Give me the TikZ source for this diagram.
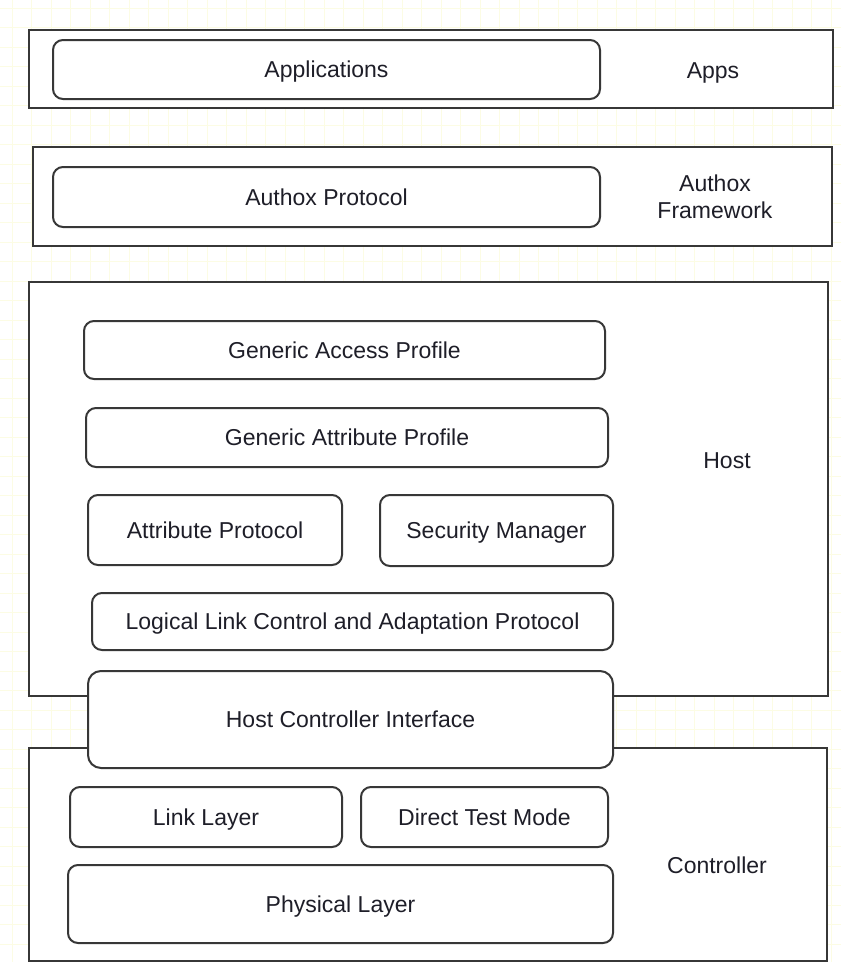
\documentclass[tikz,border=0pt]{standalone}
\usepackage{fontspec}
\setmainfont{Liberation Sans}
\definecolor{gridc}{RGB}{252,252,228}
\definecolor{linec}{RGB}{55,55,55}
\definecolor{textc}{RGB}{30,30,40}
\begin{document}
\begin{tikzpicture}[x=1pt,y=-1pt,
  layer/.style={draw=linec, line width=2pt, fill=white, inner sep=0pt},
  block/.style={draw=linec, line width=2pt, fill=white, rounded corners=10pt, inner sep=0pt,
    font=\fontsize{23}{27}\selectfont, text=textc, text height=20pt, text depth=3.5pt},
  lab/.style={font=\fontsize{23}{27}\selectfont, text=textc, align=center, inner sep=0pt},
  lab1/.style={lab, text height=20pt, text depth=3.5pt}]
\useasboundingbox (0,0) rectangle (841,962);
\fill[white] (0,0) rectangle (841,962);
\foreach \i in {0,...,42} \draw[gridc, line width=1pt] (12.2+19.5*\i,0) -- (12.2+19.5*\i,962);
\foreach \j in {0,...,49} \draw[gridc, line width=1pt] (0,8+19.5*\j) -- (841,8+19.5*\j);
% layers
\node[layer, minimum width=804pt, minimum height=78pt] (apps) at (431,69) {};
\node[layer, minimum width=799pt, minimum height=99pt] (fw) at (432.5,196.5) {};
\node[layer, minimum width=799pt, minimum height=414pt] (host) at (428.5,489) {};
\node[layer, minimum width=798pt, minimum height=213pt] (ctrl) at (428,854.5) {};
% labels
\node[lab1] (appslab) at (713,70) {Apps};
\node[lab] (fwlab) at (715,197) {Authox\\Framework};
\node[lab1] (hostlab) at (727,460) {Host};
\node[lab1] (ctrllab) at (717,865) {Controller};
% blocks
\node[block, minimum width=547pt, minimum height=59pt] (appl) at (326.5,69.5) {Applications};
\node[block, minimum width=547pt, minimum height=60pt] (authp) at (326.5,197) {Authox Protocol};
\node[block, minimum width=521pt, minimum height=58pt] (gap) at (344.5,350) {Generic Access Profile};
\node[block, minimum width=522pt, minimum height=59pt] (gatt) at (347,437.5) {Generic Attribute Profile};
\node[block, minimum width=254pt, minimum height=70pt] (att) at (215,530) {Attribute Protocol};
\node[block, minimum width=233pt, minimum height=71pt] (sm) at (496.5,530.5) {Security Manager};
\node[block, minimum width=521pt, minimum height=57pt] (l2cap) at (352.5,621.5) {Logical Link Control and Adaptation Protocol};
\node[block, rounded corners=13pt, minimum width=525pt, minimum height=97pt] (hci) at (350.5,719.5) {Host Controller Interface};
\node[block, minimum width=272pt, minimum height=60pt] (ll) at (206,817) {Link Layer};
\node[block, minimum width=247pt, minimum height=60pt] (dtm) at (484.5,817) {Direct Test Mode};
\node[block, minimum width=545pt, minimum height=78pt] (phy) at (340.5,904) {Physical Layer};
\end{tikzpicture}
\end{document}
